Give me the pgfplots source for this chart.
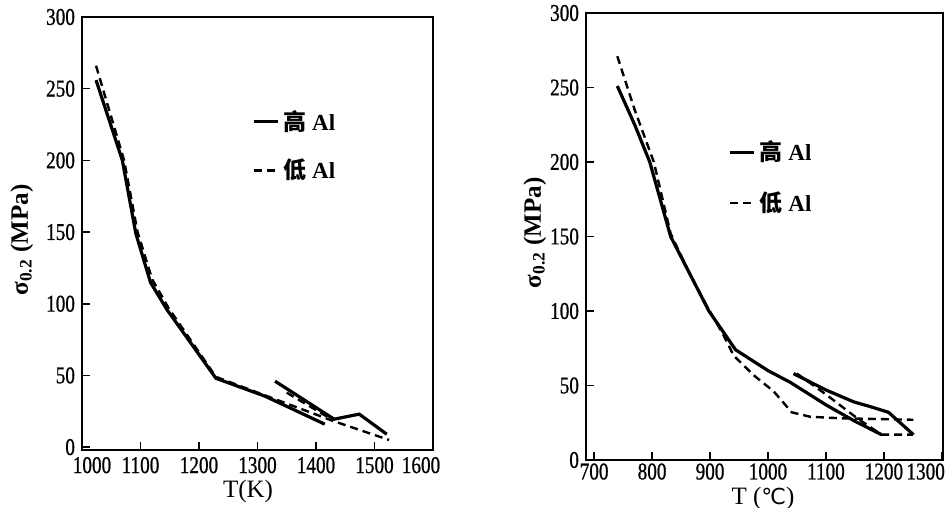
\documentclass[border=0pt]{standalone}
\usepackage{fontspec}
\setmainfont{Liberation Serif}
\newfontfamily\cjk{Noto Sans CJK SC}
\newfontfamily\dejavu{DejaVu Sans}
\newfontfamily\condfont[FakeStretch=0.8,FakeBold=0.8]{Liberation Serif}
\usepackage{pgfplots}
\pgfplotsset{compat=1.18}
\begin{document}
\begin{tikzpicture}[x=1pt,y=1pt]
\useasboundingbox (0,0) rectangle (473.5,254);
\pgfplotsset{
 myax/.style={scale only axis, axis line style={line width=1pt}, tick style={line width=0.8pt, black},
  major tick length=4pt, xtick pos=bottom, ytick pos=left,
  tick label style={font=\condfont\fontsize{12}{12}\selectfont},
  label style={font=\fontsize{12.5}{12.5}\selectfont},
  /pgf/number format/assume math mode=true, /pgf/number format/set thousands separator={},
  legend style={draw=none, fill=none, inner sep=0pt, font=\bfseries\fontsize{11.5}{11.5}\selectfont, anchor=west},
  legend cell align=left,
  legend image code/.code={\draw[##1] (0pt,0pt) -- (12pt,0pt);},
  ymin=-2, ymax=300, ytick={0,50,...,300}},
 hi/.style={black, line width=1.6pt},
 lo/.style={black, line width=1.2pt, dash pattern=on 4pt off 2.5pt},
}
\begin{axis}[myax, at={(41pt,29pt)}, anchor=south west, width=175.5pt, height=216.5pt,
  xmin=1000, xmax=1600, xtick={1000,1100,...,1600},
  xticklabels={\hspace*{10pt}1000,1100,1200,1300,1400,1500,1600\hspace*{12pt}},
  xlabel={T(K)}, ylabel={\bfseries σ\textsubscript{0.2} (MPa)},
  xlabel style={at={(axis description cs:0.473,-0.095)}, anchor=center},
  ylabel style={at={(axis description cs:-0.171,0.485)}, anchor=center},
  legend style={at={(axis description cs:0.484,0.702)}, row sep=9pt}]
\addplot[hi] coordinates {(1024,256) (1069,200) (1092,149) (1117,115) (1145,96) (1229,48) (1313,35.5) (1415,16)};
\addlegendentry{{\cjk 高} Al}
\addplot[lo] coordinates {(1024,266) (1072,200) (1095,150) (1120,117) (1148,97) (1229,49) (1320,35) (1431,18) (1525,5)};
\addlegendentry{{\cjk 低} Al}
\addplot[hi, forget plot] coordinates {(1330,46) (1431,19.5) (1474,23) (1521,9)};
\addplot[lo, forget plot] coordinates {(1350,38) (1420,21)};
\end{axis}
\begin{axis}[myax, at={(293pt,24pt)}, anchor=south west, width=178.5pt, height=223.5pt,
  xmin=686, xmax=1302, ymin=0, xtick={700,800,...,1300},
  xticklabels={700,800,900,1000,1100,1200,\hbox to 0pt{\hss 1300\kern-1.5pt}},
  xticklabel style={yshift=1.8pt},
  xlabel={T ({\dejavu\fontsize{11}{11}\selectfont ℃})}, ylabel={\bfseries σ\textsubscript{0.2} (MPa)},
  xlabel style={at={(axis description cs:0.496,-0.085)}, anchor=center},
  ylabel style={at={(axis description cs:-0.143,0.508)}, anchor=center},
  legend style={at={(axis description cs:0.398,0.632)}, row sep=10pt}]
\addplot[hi] coordinates {(740,251) (770,225) (796,200) (832,150) (865,125) (898,100) (944,74) (1000,60) (1039,52) (1100,37) (1150,26) (1196,17)};
\addlegendentry{{\cjk 高} Al}
\addplot[lo] coordinates {(740,271) (770,235) (803,200) (832,152) (865,125) (895,103) (923,84) (941,70) (975,57) (1010,46) (1041,32) (1073,29) (1125,28) (1251,27)};
\addlegendentry{{\cjk 低} Al}
\addplot[hi, forget plot] coordinates {(1044,58) (1100,47) (1148,39) (1175,36) (1208,32) (1251,17)};
\addplot[lo, forget plot] coordinates {(1050,58) (1100,44) (1154,28) (1196,17) (1250,17)};
\end{axis}
\end{tikzpicture}
\end{document}
